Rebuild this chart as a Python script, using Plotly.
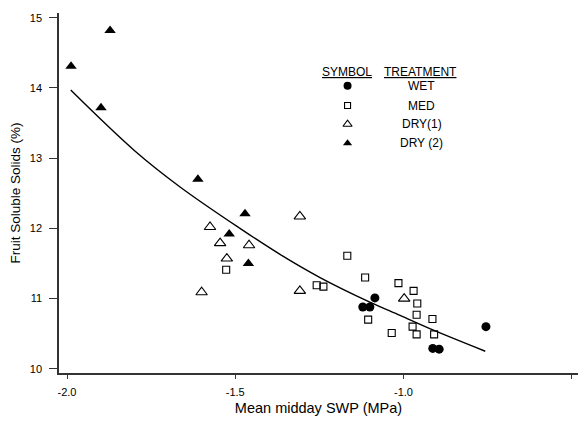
import plotly.graph_objects as go

# Mean midday stem water potential (MPa) vs fruit soluble solids (%)
wet_x = [-1.085, -1.121, -1.100, -0.913, -0.894, -0.755]
wet_y = [11.01, 10.88, 10.88, 10.29, 10.28, 10.60]

med_x = [-1.527, -1.258, -1.238, -1.167, -1.114, -1.105, -1.015, -1.035,
         -0.970, -0.959, -0.961, -0.973, -0.961, -0.914, -0.909]
med_y = [11.41, 11.19, 11.17, 11.61, 11.30, 10.70, 11.22, 10.51,
         11.11, 10.93, 10.77, 10.60, 10.49, 10.71, 10.49]

dry1_x = [-1.575, -1.545, -1.459, -1.525, -1.600, -1.308, -1.308, -0.998]
dry1_y = [12.02, 11.79, 11.76, 11.57, 11.09, 12.17, 11.11, 11.00]

dry2_x = [-1.988, -1.872, -1.899, -1.611, -1.471, -1.518, -1.461]
dry2_y = [14.31, 14.82, 13.72, 12.70, 12.21, 11.92, 11.50]

# Regression curve through all treatments
curve_x = [-1.989, -1.800, -1.664, -1.486, -1.367, -1.248, -1.100,
           -1.010, -0.911, -0.757]
curve_y = [13.97, 13.11, 12.59, 12.00, 11.63, 11.30, 10.95,
           10.76, 10.55, 10.25]

x_ticks = [-2.0, -1.5, -1.0, -0.5]
x_tick_labels = ["-2.0", "-1.5", "-1.0", "-0.5"]
y_ticks = [10, 11, 12, 13, 14, 15]

treatments = ["WET", "MED", "DRY(1)", "DRY (2)"]

FONT = "Liberation Sans, Arial, sans-serif"
AXIS_COLOR = "#333333"

fig = go.Figure()

fig.add_trace(go.Scatter(x=curve_x, y=curve_y, mode="lines",
                         line=dict(color="black", width=1.4, shape="spline",
                                   smoothing=1.0),
                         hoverinfo="skip"))

styles = {
    "WET": dict(symbol="circle", size=9, color="black",
                line=dict(color="black", width=0)),
    "MED": dict(symbol="square-open", size=7, color="black",
                line=dict(color="black", width=1.1)),
    "DRY(1)": dict(symbol="triangle-up-open", size=10, color="black",
                   line=dict(color="black", width=1.1)),
    "DRY (2)": dict(symbol="triangle-up", size=10, color="black",
                    line=dict(color="black", width=0)),
}

series = [(wet_x, wet_y), (med_x, med_y), (dry1_x, dry1_y), (dry2_x, dry2_y)]
for name, (sx, sy) in zip(treatments, series):
    fig.add_trace(go.Scatter(x=sx, y=sy, mode="markers", name=name,
                             marker=styles[name]))

# Symbol key drawn on an overlay axis spanning the plot area
key_x = 0.556
key_rows = [0.798, 0.743, 0.691, 0.638]
legend_sizes = {"WET": 8, "MED": 6, "DRY(1)": 8, "DRY (2)": 8}
for name, ky in zip(treatments, key_rows):
    m = dict(styles[name])
    m["size"] = legend_sizes[name]
    fig.add_trace(go.Scatter(x=[key_x], y=[ky], mode="markers",
                             marker=m, xaxis="x2", yaxis="y2",
                             hoverinfo="skip"))

annotations = [
    dict(text="<u>SYMBOL</u>", x=0.555, y=0.836),
    dict(text="<u>TREATMENT</u>", x=0.6965, y=0.836),
]
for name, ky in zip(treatments, key_rows):
    annotations.append(dict(text=name, x=0.699, y=ky))
for a in annotations:
    a.update(xref="paper", yref="paper", showarrow=False,
             xanchor="center", yanchor="middle",
             font=dict(family=FONT, size=12, color="black"))

fig.update_layout(
    width=578, height=424,
    margin=dict(l=59, r=0, t=13, b=51),
    paper_bgcolor="white", plot_bgcolor="white",
    showlegend=False,
    font=dict(family=FONT, color="black"),
    annotations=annotations,
    xaxis=dict(
        range=[-2.0238, -0.4814],
        tickvals=x_ticks, ticktext=x_tick_labels,
        ticks="outside", ticklen=4, tickwidth=1.2, tickcolor=AXIS_COLOR,
        ticklabelstandoff=4,
        showline=True, linecolor=AXIS_COLOR, linewidth=1.5,
        showgrid=False, zeroline=False,
        tickfont=dict(family=FONT, size=11, color="black"),
        title=dict(text="Mean midday SWP (MPa)", standoff=6,
                   font=dict(family=FONT, size=14.5, color="black")),
    ),
    yaxis=dict(
        range=[9.940, 15.068],
        tickvals=y_ticks,
        ticks="outside", ticklen=8, tickwidth=1.2, tickcolor=AXIS_COLOR,
        ticklabelstandoff=5,
        showline=True, linecolor=AXIS_COLOR, linewidth=1.5,
        showgrid=False, zeroline=False,
        tickfont=dict(family=FONT, size=11, color="black"),
        title=dict(text="Fruit Soluble Solids (%)", standoff=6,
                   font=dict(family=FONT, size=13.5, color="black")),
    ),
    xaxis2=dict(range=[0, 1], domain=[0, 1], overlaying="x", visible=False,
                fixedrange=True),
    yaxis2=dict(range=[0, 1], domain=[0, 1], overlaying="y", visible=False,
                fixedrange=True, anchor="x2"),
)

fig.write_html("out.html", config={"displayModeBar": False})
